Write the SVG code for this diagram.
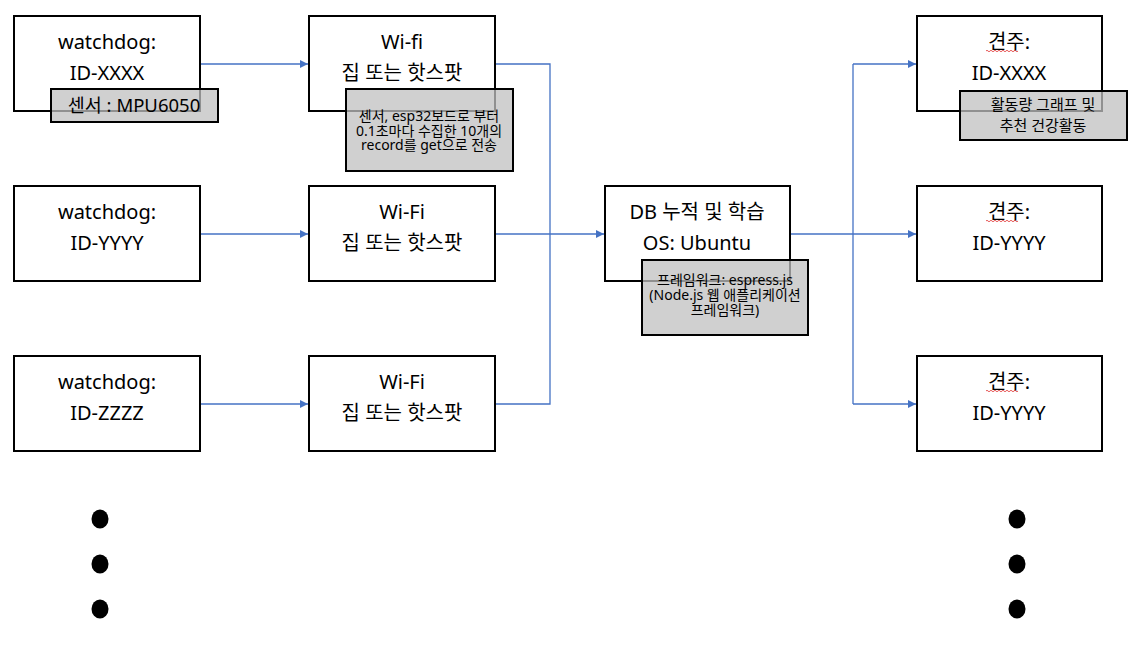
<svg xmlns="http://www.w3.org/2000/svg" width="1147" height="657" viewBox="0 0 1147 657">
<style>
text{font-family:"Noto Sans","Noto Sans CJK KR",sans-serif;fill:#000;text-anchor:middle}
.box{fill:#fff;stroke:#000;stroke-width:2}
.note{fill:#c0c0c0;fill-opacity:0.75;stroke:#000;stroke-width:2}
.t{font-size:20px}
.s{font-size:14px}
.m{font-size:15px}
.con{fill:none;stroke:#4472c4;stroke-width:1.3}
.sq{fill:none;stroke:#e03030;stroke-width:0.8}
</style>
<defs>
<marker id="ah" viewBox="0 0 10 10" refX="10" refY="5" markerWidth="9" markerHeight="8" markerUnits="userSpaceOnUse" orient="auto">
<path d="M0,0 L10,5 L0,10 Z" fill="#4472c4"/>
</marker>
</defs>
<g id="connectors">
<path class="con" d="M200,64 H308" marker-end="url(#ah)"/>
<path class="con" d="M200,234 H308" marker-end="url(#ah)"/>
<path class="con" d="M200,404 H308" marker-end="url(#ah)"/>
<path class="con" d="M495,64 H550 V404 H495"/>
<path class="con" d="M495,234 H604" marker-end="url(#ah)"/>
<path class="con" d="M790,234 H916" marker-end="url(#ah)"/>
<path class="con" d="M853,64 V404"/>
<path class="con" d="M853,64 H916" marker-end="url(#ah)"/>
<path class="con" d="M853,404 H916" marker-end="url(#ah)"/>
</g>
<g id="watchdog-x">
<rect class="box" x="14" y="16" width="186" height="95"/>
<text class="t" x="107" y="49">watchdog:</text>
<text class="t" x="107" y="80">ID-XXXX</text>
</g>
<g id="wifi-1">
<rect class="box" x="309" y="16" width="186" height="95"/>
<text class="t" x="402" y="49">Wi-fi</text>
<text class="t" x="402" y="80">집 또는 핫스팟</text>
</g>
<g id="note-sensor">
<rect class="note" x="51" y="89" width="167" height="33"/>
<text x="134" y="112" style="font-size:18.5px">센서 : MPU6050</text>
</g>
<g id="note-wifi">
<rect class="note" x="346" y="89" width="167" height="82"/>
<text class="s" x="429" y="121">센서, esp32보드로 부터<tspan x="429" dy="14.5">0.1초마다 수집한 10개의</tspan><tspan x="429" dy="14.5">record를 get으로 전송</tspan></text>
</g>
<g id="watchdog-y">
<rect class="box" x="14" y="186" width="186" height="95"/>
<text class="t" x="107" y="219">watchdog:</text>
<text class="t" x="107" y="250">ID-YYYY</text>
</g>
<g id="wifi-2">
<rect class="box" x="309" y="186" width="186" height="95"/>
<text class="t" x="402" y="219">Wi-Fi</text>
<text class="t" x="402" y="250">집 또는 핫스팟</text>
</g>
<g id="watchdog-z">
<rect class="box" x="14" y="356" width="186" height="95"/>
<text class="t" x="107" y="389">watchdog:</text>
<text class="t" x="107" y="420">ID-ZZZZ</text>
</g>
<g id="wifi-3">
<rect class="box" x="309" y="356" width="186" height="95"/>
<text class="t" x="402" y="389">Wi-Fi</text>
<text class="t" x="402" y="420">집 또는 핫스팟</text>
</g>
<g id="db">
<rect class="box" x="605" y="186" width="185" height="95"/>
<text class="t" x="697" y="219">DB 누적 및 학습</text>
<text class="t" x="697" y="250">OS: Ubuntu</text>
</g>
<g id="note-db">
<rect class="note" x="642" y="260" width="166" height="75"/>
<text class="s" x="725" y="285">프레임워크: espress.js<tspan x="725" dy="15">(Node.js 웹 애플리케이션</tspan><tspan x="725" dy="15">프레임워크)</tspan></text>
</g>
<g id="owner-x">
<rect class="box" x="917" y="16" width="185" height="95"/>
<text class="t" x="1009" y="49">견주:</text>
<path class="sq" d="M986,51 q1,-1.5 2,0 t2,0 t2,0 t2,0 t2,0 t2,0 t2,0 t2,0 t2,0 t2,0 t2,0 t2,0 t2,0 t2,0 t2,0 t2,0"/>
<text class="t" x="1009" y="80">ID-XXXX</text>
</g>
<g id="note-owner">
<rect class="note" x="960" y="91" width="167" height="49"/>
<text class="m" x="1043" y="110">활동량 그래프 및<tspan x="1043" dy="21">추천 건강활동</tspan></text>
</g>
<g id="owner-y">
<rect class="box" x="917" y="186" width="185" height="95"/>
<text class="t" x="1009" y="219">견주:</text>
<path class="sq" d="M986,221 q1,-1.5 2,0 t2,0 t2,0 t2,0 t2,0 t2,0 t2,0 t2,0 t2,0 t2,0 t2,0 t2,0 t2,0 t2,0 t2,0 t2,0"/>
<text class="t" x="1009" y="250">ID-YYYY</text>
</g>
<g id="owner-y2">
<rect class="box" x="917" y="356" width="185" height="95"/>
<text class="t" x="1009" y="389">견주:</text>
<path class="sq" d="M986,391 q1,-1.5 2,0 t2,0 t2,0 t2,0 t2,0 t2,0 t2,0 t2,0 t2,0 t2,0 t2,0 t2,0 t2,0 t2,0 t2,0 t2,0"/>
<text class="t" x="1009" y="420">ID-YYYY</text>
</g>
<g id="dots-left">
<ellipse cx="100" cy="519" rx="8.5" ry="9.5"/>
<ellipse cx="100" cy="564" rx="8.5" ry="9.5"/>
<ellipse cx="100" cy="609" rx="8.5" ry="9.5"/>
</g>
<g id="dots-right">
<ellipse cx="1017" cy="519" rx="8.5" ry="9.5"/>
<ellipse cx="1017" cy="564" rx="8.5" ry="9.5"/>
<ellipse cx="1017" cy="609" rx="8.5" ry="9.5"/>
</g>
</svg>
